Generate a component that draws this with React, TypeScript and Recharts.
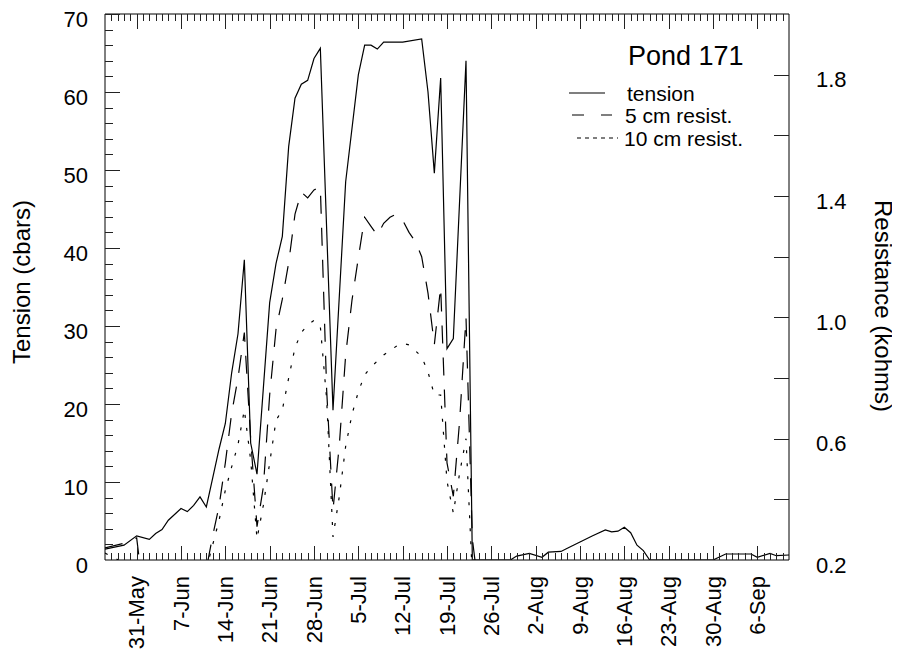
import React from 'react'
import { LineChart, Line, XAxis, YAxis } from 'recharts'

// x values are days counted from 26-May

const tensionDays = [0, 3, 5, 7, 8, 9, 10, 12, 13, 14, 15, 16, 17, 18, 19, 20, 21, 22, 23, 24, 25, 26, 27, 28, 29, 30, 31, 32, 33, 34, 36, 38, 40, 41, 42, 43, 44, 47, 50, 51, 52, 53, 54, 55, 57, 58, 64, 65, 67, 69, 70, 72, 73, 75, 77, 79, 80, 81, 82, 83, 84, 85, 86, 96, 98, 102, 103, 105, 106, 108]
const tensionValues = [1.4, 1.9, 3.1, 2.65, 3.4, 3.9, 5.1, 6.6, 6.2, 7.0, 8.1, 6.8, 10.5, 14.2, 17.5, 24, 29, 38.5, 15, 11, 22, 33, 38, 41.5, 53, 59.2, 61, 61.5, 64.3, 65.6, 19.2, 48.5, 62.2, 66, 66, 65.5, 66.4, 66.4, 66.8, 60, 49.6, 61.8, 27.1, 28.4, 64, 0, 0, 0.5, 0.85, 0.35, 1.0, 1.1, 1.5, 2.3, 3.1, 3.85, 3.6, 3.7, 4.2, 3.5, 1.9, 1.2, 0, 0, 0.77, 0.77, 0.35, 0.85, 0.55, 0.64]

const fiveCmDays = [0, 3, 5, 6, 16, 17, 18, 19, 20, 21, 22, 23, 24, 25, 26, 27, 28, 29, 30, 31, 32, 33, 34, 35, 36, 37, 38, 39, 40, 41, 42, 43, 44, 45, 46, 47, 48, 49, 50, 51, 52, 53, 54, 55, 56, 57, 58, 59]
const fiveCmValues = [0.24, 0.255, 0.273, 0.1, 0.17, 0.28, 0.376, 0.52, 0.684, 0.8, 0.95, 0.6, 0.31, 0.44, 0.744, 0.96, 1.06, 1.18, 1.34, 1.413, 1.394, 1.42, 1.43, 0.76, 0.365, 0.58, 0.876, 1.057, 1.196, 1.33, 1.3, 1.27, 1.31, 1.33, 1.34, 1.32, 1.28, 1.25, 1.2, 1.08, 0.91, 1.1, 0.52, 0.41, 0.66, 1.0, 0.27, 0.1]

const tenCmDays = [0, 3, 16, 17, 18, 19, 20, 21, 22, 23, 24, 25, 26, 27, 28, 29, 30, 31, 32, 33, 34, 35, 36, 37, 38, 39, 40, 41, 42, 43, 44, 45, 46, 47, 48, 49, 50, 51, 52, 53, 54, 55, 56, 57, 58]
const tenCmValues = [0.223, 0.19, 0.17, 0.25, 0.33, 0.43, 0.507, 0.58, 0.695, 0.53, 0.27, 0.38, 0.52, 0.66, 0.695, 0.8, 0.9, 0.95, 0.975, 0.99, 0.97, 0.73, 0.276, 0.41, 0.575, 0.68, 0.755, 0.81, 0.836, 0.856, 0.876, 0.89, 0.905, 0.915, 0.909, 0.89, 0.87, 0.82, 0.744, 0.744, 0.46, 0.355, 0.487, 0.6, 0.15]

const dateTickDays = [5, 12, 19, 26, 33, 40, 47, 54, 61, 68, 75, 82, 89, 96, 103]
const dateTickLabels = ['31-May', '7-Jun', '14-Jun', '21-Jun', '28-Jun', '5-Jul', '12-Jul', '19-Jul', '26-Jul', '2-Aug', '9-Aug', '16-Aug', '23-Aug', '30-Aug', '6-Sep']
const tensionTickLabels = [0, 10, 20, 30, 40, 50, 60, 70]
const resistTicks = [0.2, 0.4, 0.6, 0.8, 1.0, 1.2, 1.4, 1.6, 1.8]
const resistTickLabels = ['0.2', '0.6', '1.0', '1.4', '1.8']

const X_DOMAIN = [0, 108]
const TENSION_DOMAIN = [0, 70]
const RESIST_DOMAIN = [0.2, 2.0]

const W = 884
const H = 642
const LEFT_W = 97
const RIGHT_W = 103
const TOP_H = 6
const BOTTOM_H = 90
const PLOT_L = LEFT_W
const PLOT_R = W - RIGHT_W
const PLOT_T = TOP_H
const PLOT_B = H - BOTTOM_H
const FONT = '"Liberation Sans", Arial, Helvetica, sans-serif'

const toPoints = (days: number[], values: number[]) => days.map((d, i) => ({ day: d, v: values[i] }))
const tensionData = toPoints(tensionDays, tensionValues)
const fiveCmData = toPoints(fiveCmDays, fiveCmValues)
const tenCmData = toPoints(tenCmDays, tenCmValues)

const dayTicks = Array.from({ length: 109 }, (_, i) => i)
const tensionTicks = Array.from({ length: 36 }, (_, i) => i * 2)

// frame tick marks point inward, so they go in the overlay using the same domains as the axes
const snap = (v: number) => Math.round(v) + 0.5
const xPix = (d: number) => PLOT_L + ((d - X_DOMAIN[0]) / (X_DOMAIN[1] - X_DOMAIN[0])) * (PLOT_R - PLOT_L)
const yPix = (v: number, dom: number[]) => PLOT_B - ((v - dom[0]) / (dom[1] - dom[0])) * (PLOT_B - PLOT_T)

const BottomLabel = (props: any) => {
    const { x, payload } = props
    const idx = dateTickDays.indexOf(payload.value)
    if (idx < 0) return <g />
    return (
        <text
            transform={`translate(${x},${PLOT_B + 16}) rotate(-90)`}
            textAnchor="end"
            dy="0.35em"
            fontSize={22}
            fontFamily={FONT}
            fill="#000"
        >
            {dateTickLabels[idx]}
        </text>
    )
}

const LeftLabel = (props: any) => {
    const { y, payload } = props
    if (!tensionTickLabels.includes(payload.value)) return <g />
    return (
        <text x={PLOT_L - 17} y={y + 5} dy="0.35em" textAnchor="end" fontSize={22} fontFamily={FONT} fill="#000">
            {payload.value}
        </text>
    )
}

const RightLabel = (props: any) => {
    const { y, payload } = props
    const label = Number(payload.value).toFixed(1)
    if (!resistTickLabels.includes(label)) return <g />
    return (
        <text x={PLOT_R + 27} y={y + 5} dy="0.35em" textAnchor="start" fontSize={22} fontFamily={FONT} fill="#000">
            {label}
        </text>
    )
}

const FrameTicks = () => {
    const marks: string[] = []
    dayTicks.forEach((d) => {
        if (d === X_DOMAIN[0] || d === X_DOMAIN[1]) return
        const x = snap(xPix(d))
        const major = dateTickDays.includes(d)
        marks.push(`M${x},${PLOT_B}V${PLOT_B - (major ? 14 : 7)}`)
        marks.push(`M${x},${PLOT_T}V${PLOT_T + (major ? 15 : 7)}`)
    })
    tensionTicks.forEach((v) => {
        if (v === TENSION_DOMAIN[0]) return
        const y = snap(yPix(v, TENSION_DOMAIN))
        marks.push(`M${PLOT_L},${y}H${PLOT_L + (tensionTickLabels.includes(v) ? 15 : 8)}`)
    })
    resistTicks.forEach((v) => {
        if (v === RESIST_DOMAIN[0]) return
        const y = snap(yPix(v, RESIST_DOMAIN))
        marks.push(`M${PLOT_R},${y}H${PLOT_R - 15}`)
    })
    return <path d={marks.join('')} stroke="#222" strokeWidth={1} fill="none" />
}

export default function App() {
    return (
        <div style={{ position: 'relative', width: W, height: H }}>
            <LineChart width={W} height={H} margin={{ top: 0, right: 0, bottom: 0, left: 0 }}>
                <XAxis
                    xAxisId="bottom"
                    type="number"
                    dataKey="day"
                    domain={X_DOMAIN}
                    ticks={dateTickDays}
                    interval={0}
                    height={BOTTOM_H}
                    tickLine={false}
                    axisLine={{ stroke: '#000' }}
                    tick={(p: any) => <BottomLabel {...p} />}
                    allowDataOverflow
                />
                <XAxis
                    xAxisId="top"
                    orientation="top"
                    type="number"
                    dataKey="day"
                    domain={X_DOMAIN}
                    height={TOP_H}
                    tickLine={false}
                    tick={false}
                    axisLine={{ stroke: '#000' }}
                />
                <YAxis
                    yAxisId="tension"
                    type="number"
                    domain={TENSION_DOMAIN}
                    ticks={tensionTickLabels}
                    interval={0}
                    width={LEFT_W}
                    tickLine={false}
                    axisLine={{ stroke: '#000' }}
                    tick={(p: any) => <LeftLabel {...p} />}
                    allowDataOverflow
                />
                <YAxis
                    yAxisId="resist"
                    orientation="right"
                    type="number"
                    domain={RESIST_DOMAIN}
                    ticks={resistTicks}
                    interval={0}
                    width={RIGHT_W}
                    tickLine={false}
                    axisLine={{ stroke: '#000' }}
                    tick={(p: any) => <RightLabel {...p} />}
                    allowDataOverflow
                />
                <Line
                    xAxisId="bottom"
                    yAxisId="resist"
                    data={tenCmData}
                    dataKey="v"
                    name="10 cm resist."
                    stroke="#000"
                    strokeWidth={1.2}
                    strokeDasharray="3 10"
                    dot={false}
                    activeDot={false}
                    isAnimationActive={false}
                />
                <Line
                    xAxisId="bottom"
                    yAxisId="resist"
                    data={fiveCmData}
                    dataKey="v"
                    name="5 cm resist."
                    stroke="#000"
                    strokeWidth={1.2}
                    strokeDasharray="18 14"
                    dot={false}
                    activeDot={false}
                    isAnimationActive={false}
                />
                <Line
                    xAxisId="bottom"
                    yAxisId="tension"
                    data={tensionData}
                    dataKey="v"
                    name="tension"
                    stroke="#000"
                    strokeWidth={1.2}
                    dot={false}
                    activeDot={false}
                    isAnimationActive={false}
                />
            </LineChart>
            <svg
                width={W}
                height={H}
                style={{ position: 'absolute', left: 0, top: 0, pointerEvents: 'none', overflow: 'visible' }}
                fontFamily={FONT}
            >
                <FrameTicks />
                <text transform="translate(14,274) rotate(-90)" textAnchor="middle" dy="0.35em" fontSize={24}>
                    Tension (cbars)
                </text>
                <text transform="translate(875,298) rotate(90)" textAnchor="middle" dy="0.35em" fontSize={24}>
                    Resistance (kohms)
                </text>
                <text x={620} y={57} fontSize={27}>Pond 171</text>
                <line x1={561} x2={597} y1={85} y2={85} stroke="#000" strokeWidth={1.2} />
                <text x={619} y={86} dy="0.35em" fontSize={21}>tension</text>
                <line x1={564} x2={604} y1={107} y2={107} stroke="#000" strokeWidth={1.2} strokeDasharray="12 17" />
                <text x={617} y={108} dy="0.35em" fontSize={21}>5 cm resist.</text>
                <line x1={569} x2={610} y1={130} y2={130} stroke="#000" strokeWidth={1.2} strokeDasharray="4 4" />
                <text x={616} y={131} dy="0.35em" fontSize={21}>10 cm resist.</text>
            </svg>
        </div>
    )
}
